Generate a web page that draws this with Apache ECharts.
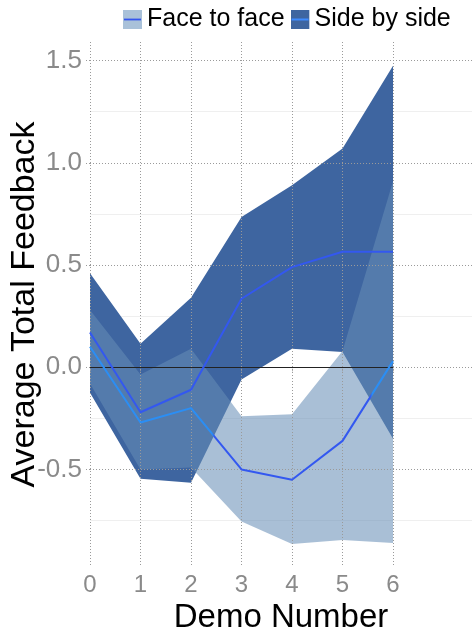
<!DOCTYPE html>
<html>
<head>
<meta charset="utf-8">
<script src="https://cdn.jsdelivr.net/npm/echarts@6/dist/echarts.min.js"></script>
<style>
  html, body { margin: 0; padding: 0; background: #ffffff; }
  #chart { width: 472px; height: 627px; }
</style>
</head>
<body>
<div id="chart"></div>
<script>
// Demo numbers on the x axis
const demoNumbers = [0, 1, 2, 3, 4, 5, 6];

// Face to face: mean feedback and its confidence band
const faceMean = [0.10, -0.27, -0.20, -0.50, -0.55, -0.36, 0.03];
const faceLow  = [-0.08, -0.50, -0.49, -0.755, -0.865, -0.845, -0.86];
const faceHigh = [0.28, -0.035, 0.09, -0.24, -0.23, 0.08, 0.91];

// Side by side: mean feedback and its confidence band
const sideMean = [0.17, -0.22, -0.11, 0.335, 0.49, 0.565, 0.565];
const sideLow  = [-0.125, -0.545, -0.565, -0.06, 0.09, 0.075, -0.35];
const sideHigh = [0.46, 0.115, 0.34, 0.735, 0.89, 1.07, 1.475];

// Axis tick values
const yTicks = [-0.5, 0, 0.5, 1.0, 1.5];
const yMinorTicks = [-0.75, -0.25, 0.25, 0.75, 1.25];

const FONT = 'Liberation Sans, Arial, Helvetica, sans-serif';
const GRID_GRAY = '#9a9a9a';

const pairs = ys => demoNumbers.map((x, i) => [x, ys[i]]);
// Band rows are [value, x] so that stacking runs along the value dimension
const bandRows = ys => demoNumbers.map((x, i) => [ys[i], x]);
const spanRows = (lo, hi) => demoNumbers.map((x, i) => [+(hi[i] - lo[i]).toFixed(4), x]);

const svgIcon = (fill, stroke) =>
  'image://data:image/svg+xml;utf8,' + encodeURIComponent(
    '<svg xmlns="http://www.w3.org/2000/svg" width="19" height="19">' +
    '<rect width="19" height="19" fill="' + fill + '"/>' +
    '<line x1="1" y1="9.5" x2="18" y2="9.5" stroke="' + stroke + '" stroke-width="1.8"/>' +
    '</svg>');

const FACE_FILL = 'rgba(102,140,182,0.56)';
const SIDE_FILL = '#3e65a0';
const LINE_BLUE = '#3358f0';
const LINE_CYAN = '#2a8ef5';

const hidden = { width: 0, opacity: 0 };
const bandEncode = { x: 1, y: 0 };

const chart = echarts.init(document.getElementById('chart'), null, { renderer: 'canvas' });

chart.setOption({
  animation: false,
  backgroundColor: '#ffffff',
  grid: { left: 90, right: 0, top: 42, bottom: 60, containLabel: false, outerBoundsMode: 'none' },
  legend: {
    top: 2,
    left: 118,
    itemWidth: 19,
    itemHeight: 19,
    itemGap: 6,
    selectedMode: false,
    textStyle: { fontSize: 25, color: '#000000', fontFamily: FONT },
    data: [
      { name: 'Face to face', icon: svgIcon('#a9c1d9', '#3355ee') },
      { name: 'Side by side', icon: svgIcon('#3e65a0', '#3f8cff') }
    ]
  },
  xAxis: {
    type: 'value',
    min: 0,
    max: 7.564,
    z: 3,
    name: 'Demo Number',
    nameLocation: 'middle',
    nameGap: 27,
    nameTextStyle: { fontSize: 33, color: '#000000', fontFamily: FONT },
    axisLine: { show: false },
    axisTick: { show: true, length: 5, customValues: demoNumbers,
                lineStyle: { color: GRID_GRAY, type: [1, 2] } },
    axisLabel: { customValues: demoNumbers, margin: 6, fontSize: 24, color: '#8a8a8a', fontFamily: FONT },
    splitLine: { show: true, lineStyle: { color: GRID_GRAY, width: 1, type: [1, 2] } }
  },
  yAxis: {
    type: 'value',
    min: -0.977,
    max: 1.591,
    z: 3,
    name: 'Average Total Feedback',
    nameLocation: 'middle',
    nameRotate: 90,
    nameGap: 48,
    nameMoveOverlap: false,
    nameTextStyle: { fontSize: 34, color: '#000000', fontFamily: FONT },
    axisLine: { show: false },
    axisTick: { show: true, length: 5, customValues: yTicks,
                lineStyle: { color: GRID_GRAY, type: [1, 2] } },
    axisLabel: { customValues: yTicks, margin: 8, fontSize: 26, color: '#8a8a8a', fontFamily: FONT,
                 formatter: v => v.toFixed(1) },
    splitLine: { show: true, lineStyle: { color: GRID_GRAY, width: 1, type: [1, 2] } }
  },
  series: [
    // Side by side band: lower edge + stacked width
    {
      name: 'Side by side', type: 'line', stack: 'side', stackStrategy: 'all', encode: bandEncode,
      data: bandRows(sideLow), symbol: 'none', lineStyle: hidden, z: 1, silent: true,
      markLine: {
        silent: true, symbol: 'none', z: 0, label: { show: false },
        lineStyle: { color: '#efefef', width: 1, type: 'solid' },
        data: yMinorTicks.map(v => ({ yAxis: v }))
      }
    },
    {
      name: 'Side by side', type: 'line', stack: 'side', stackStrategy: 'all', encode: bandEncode,
      data: spanRows(sideLow, sideHigh), symbol: 'none', lineStyle: hidden, z: 1, silent: true,
      areaStyle: { color: SIDE_FILL, opacity: 1 }
    },
    // Face to face band, drawn translucent over the other one
    {
      name: 'Face to face', type: 'line', stack: 'face', stackStrategy: 'all', encode: bandEncode,
      data: bandRows(faceLow), symbol: 'none', lineStyle: hidden, z: 2, silent: true
    },
    {
      name: 'Face to face', type: 'line', stack: 'face', stackStrategy: 'all', encode: bandEncode,
      data: spanRows(faceLow, faceHigh), symbol: 'none', lineStyle: hidden, z: 2, silent: true,
      areaStyle: { color: FACE_FILL, opacity: 1 }
    },
    // Mean lines
    {
      name: 'Side by side', type: 'line', data: pairs(sideMean), symbol: 'none', z: 6,
      lineStyle: { color: LINE_BLUE, width: 2 },
      markLine: {
        silent: true, symbol: 'none', z: 4, label: { show: false },
        lineStyle: { color: '#222222', width: 1, type: 'solid' },
        data: [[{ coord: [demoNumbers[0], 0] }, { coord: [demoNumbers[demoNumbers.length - 1], 0] }]]
      }
    },
    {
      name: 'Face to face', type: 'line', data: pairs(faceMean), symbol: 'none', z: 6,
      lineStyle: {
        width: 2,
        color: {
          type: 'linear', x: 0, y: 0, x2: 1, y2: 0,
          colorStops: [
            { offset: 0, color: LINE_CYAN },
            { offset: 0.405, color: LINE_CYAN },
            { offset: 0.412, color: LINE_BLUE },
            { offset: 0.918, color: LINE_BLUE },
            { offset: 0.925, color: LINE_CYAN },
            { offset: 1, color: LINE_CYAN }
          ]
        }
      }
    }
  ]
});
</script>
</body>
</html>
